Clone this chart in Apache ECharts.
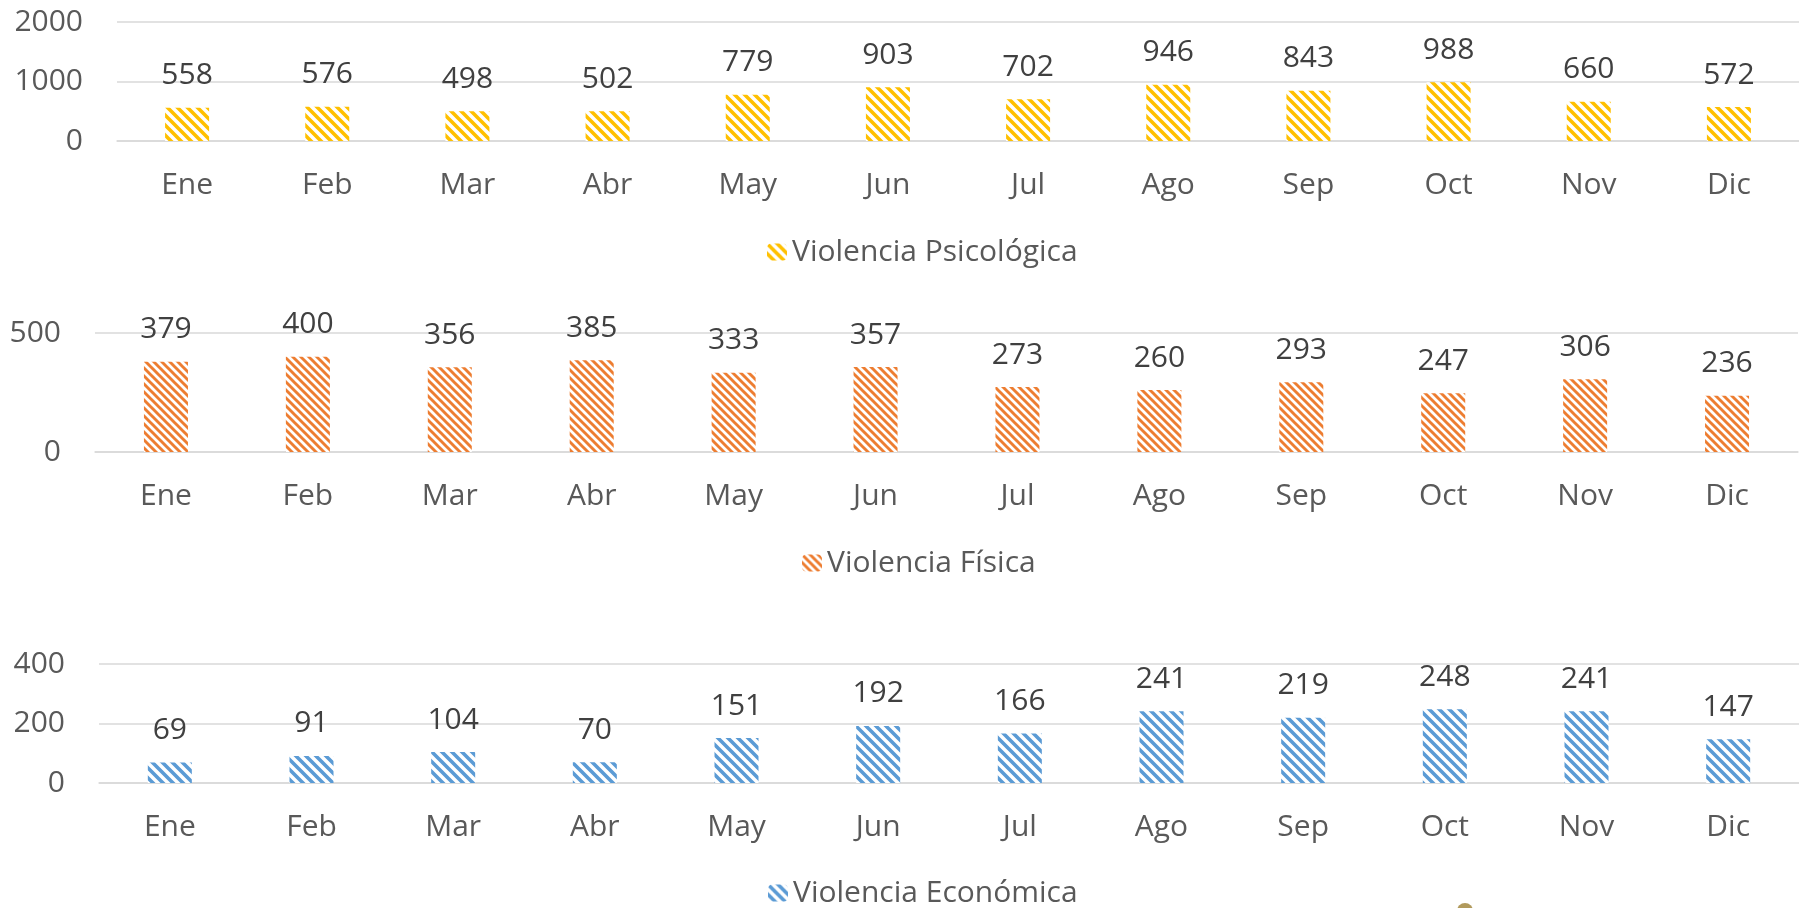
<!DOCTYPE html>
<html>
<head>
<meta charset="utf-8">
<script src="https://cdn.jsdelivr.net/npm/echarts@6/dist/echarts.min.js"></script>
<style>
  html, body { margin: 0; padding: 0; background: #fff; }
  #main { width: 1799px; height: 908px; }
</style>
</head>
<body>
<div id="main"></div>
<script>
// months on every x axis
var months = ['Ene', 'Feb', 'Mar', 'Abr', 'May', 'Jun', 'Jul', 'Ago', 'Sep', 'Oct', 'Nov', 'Dic']

// monthly counts
var psicologica = [558, 576, 498, 502, 779, 903, 702, 946, 843, 988, 660, 572]
var fisica = [379, 400, 356, 385, 333, 357, 273, 260, 293, 247, 306, 236]
var economica = [69, 91, 104, 70, 151, 192, 166, 241, 219, 248, 241, 147]

var seriesNames = ['Violencia Psicológica', 'Violencia Física', 'Violencia Económica']

// y axis ticks for each panel
var yTicks = [[0, 1000, 2000], [0, 500], [0, 200, 400]]

var FONT = 'Open Sans'

// diagonal stripe fill, like the excel pattern
function stripes (color, size) {
  var c = document.createElement('canvas')
  c.width = size
  c.height = size
  var ctx = c.getContext('2d')
  ctx.fillStyle = '#fff'
  ctx.fillRect(0, 0, size, size)
  ctx.strokeStyle = color
  ctx.lineWidth = size * 0.36
  ctx.beginPath()
  ctx.moveTo(-size, -size); ctx.lineTo(size * 2, size * 2)
  ctx.moveTo(-size, 0); ctx.lineTo(size, size * 2)
  ctx.moveTo(0, -size); ctx.lineTo(size * 2, size)
  ctx.stroke()
  return { image: c, repeat: 'repeat' }
}

var colors = ['#FFC000', '#ED7D31', '#5B9BD5']
var fills = [stripes(colors[0], 10), stripes(colors[1], 8), stripes(colors[2], 10)]

var grids = [
  { left: 117, right: 0, top: 22, height: 119 },
  { left: 95, right: 1, top: 333, height: 119 },
  { left: 99, right: 0, top: 664, height: 119 }
]

var legendPos = [
  { left: 762, top: 232 },
  { left: 797, top: 543 },
  { left: 763, top: 873 }
]

var allData = [psicologica, fisica, economica]

var option = {
  animation: false,
  backgroundColor: '#fff',
  textStyle: { fontFamily: FONT },
  grid: grids,
  legend: [],
  xAxis: [],
  yAxis: [],
  series: [],
  graphic: [
    {
      type: 'circle',
      shape: { cx: 1465, cy: 911, r: 8 },
      style: { fill: '#B19A5C' }
    }
  ]
}

var i
for (i = 0; i < 3; i++) {
  var ticks = yTicks[i]
  option.xAxis.push({
    type: 'category',
    gridIndex: i,
    data: months,
    axisLine: { show: true, lineStyle: { color: '#d9d9d9', width: 1.5 } },
    axisTick: { show: false },
    axisLabel: { color: '#595959', fontSize: 30, fontFamily: FONT, margin: 29 }
  })
  option.yAxis.push({
    type: 'value',
    gridIndex: i,
    min: ticks[0],
    max: ticks[ticks.length - 1],
    interval: ticks[1] - ticks[0],
    axisLine: { show: false },
    axisTick: { show: false },
    axisLabel: {
      color: '#595959',
      fontSize: 30,
      fontFamily: FONT,
      margin: 34,
      formatter: function (v) { return String(v) }
    },
    splitLine: { lineStyle: { color: '#d9d9d9', width: 1.5 } }
  })
  option.legend.push({
    data: [seriesNames[i]],
    left: legendPos[i].left,
    top: legendPos[i].top,
    itemWidth: 20,
    itemHeight: 17,
    itemGap: 0,
    textStyle: { color: '#595959', fontSize: 30, fontFamily: FONT }
  })
  option.series.push({
    name: seriesNames[i],
    type: 'bar',
    xAxisIndex: i,
    yAxisIndex: i,
    data: allData[i],
    barWidth: 44,
    itemStyle: { color: fills[i] },
    label: {
      show: true,
      position: 'top',
      distance: 17,
      color: '#404040',
      fontSize: 30,
      fontFamily: FONT
    }
  })
}

var chart = echarts.init(document.getElementById('main'))
chart.setOption(option)
</script>
</body>
</html>
